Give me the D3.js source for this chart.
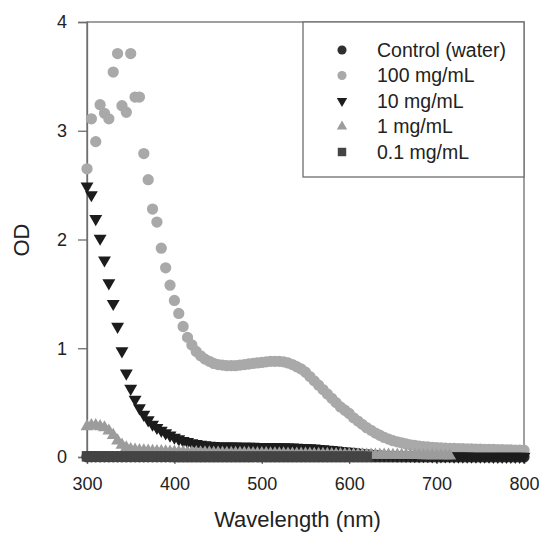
<!DOCTYPE html>
<html>
<head>
<meta charset="utf-8">
<script src="https://cdn.jsdelivr.net/npm/d3@7.9.0/dist/d3.min.js"></script>
<style>
  body { margin: 0; background: #fff; }
  svg { display: block; font-family: "Liberation Sans", Arial, sans-serif; }
</style>
</head>
<body>
<svg id="chart" width="539" height="539"></svg>
<script>
// wavelength grid (nm), 5 nm steps
const wavelengths = [
  300, 305, 310, 315, 320, 325, 330, 335, 340, 345,
  350, 355, 360, 365, 370, 375, 380, 385, 390, 395,
  400, 405, 410, 415, 420, 425, 430, 435, 440, 445,
  450, 455, 460, 465, 470, 475, 480, 485, 490, 495,
  500, 505, 510, 515, 520, 525, 530, 535, 540, 545,
  550, 555, 560, 565, 570, 575, 580, 585, 590, 595,
  600, 605, 610, 615, 620, 625, 630, 635, 640, 645,
  650, 655, 660, 665, 670, 675, 680, 685, 690, 695,
  700, 705, 710, 715, 720, 725, 730, 735, 740, 745,
  750, 755, 760, 765, 770, 775, 780, 785, 790, 795,
  800
];

const controlOD = [
  0.002, 0.002, 0.002, 0.002, 0.002, 0.002, 0.002, 0.002, 0.002, 0.002,
  0.002, 0.002, 0.002, 0.002, 0.002, 0.002, 0.002, 0.002, 0.002, 0.002,
  0.001, 0.001, 0.001, 0.001, 0.001, 0.001, 0.001, 0.001, 0.001, 0.001,
  0.001, 0.001, 0.001, 0.001, 0.001, 0.001, 0.001, 0.001, 0.001, 0.001,
  0.001, 0.001, 0.001, 0.001, 0.001, 0.001, 0.001, 0.001, 0.001, 0.001,
  0.001, 0.001, 0.001, 0.001, 0.001, 0.001, 0.001, 0.001, 0.001, 0.001,
  0.001, 0.001, 0.001, 0.001, 0.001, 0.001, 0.001, 0.001, 0.001, 0.001,
  0.001, 0.001, 0.001, 0.001, 0.001, 0.001, 0.001, 0.001, 0.001, 0.001,
  0.001, 0.001, 0.001, 0.001, 0.001, 0.001, 0.001, 0.001, 0.001, 0.001,
  0.001, 0.001, 0.001, 0.001, 0.001, 0.001, 0.001, 0.001, 0.001, 0.001,
  0.001
];

const od100 = [
  2.65, 3.11, 2.90, 3.24, 3.16, 3.11, 3.54, 3.71, 3.23, 3.17,
  3.71, 3.31, 3.31, 2.79, 2.55, 2.28, 2.16, 1.92, 1.74, 1.58,
  1.44, 1.32, 1.20, 1.10, 1.03, 0.97, 0.93, 0.90, 0.88, 0.86,
  0.85, 0.845, 0.84, 0.84, 0.84, 0.845, 0.85, 0.855, 0.86, 0.865,
  0.87, 0.875, 0.88, 0.88, 0.88, 0.875, 0.865, 0.85, 0.83, 0.81,
  0.78, 0.74, 0.70, 0.66, 0.62, 0.58, 0.54, 0.50, 0.46, 0.43,
  0.40, 0.36, 0.33, 0.30, 0.27, 0.245, 0.22, 0.20, 0.18, 0.165,
  0.15, 0.14, 0.13, 0.12, 0.112, 0.106, 0.10, 0.096, 0.092, 0.089,
  0.086, 0.084, 0.082, 0.08, 0.078, 0.077, 0.076, 0.075, 0.074, 0.073,
  0.072, 0.071, 0.07, 0.069, 0.068, 0.067, 0.066, 0.065, 0.064, 0.063,
  0.062
];

const od10 = [
  2.49, 2.41, 2.19, 2.01, 1.81, 1.60, 1.41, 1.20, 0.975, 0.77,
  0.63, 0.53, 0.45, 0.39, 0.34, 0.30, 0.27, 0.245, 0.22, 0.20,
  0.18, 0.165, 0.15, 0.14, 0.13, 0.122, 0.116, 0.11, 0.106, 0.103,
  0.10, 0.10, 0.099, 0.098, 0.098, 0.097, 0.097, 0.096, 0.096, 0.095,
  0.095, 0.094, 0.094, 0.093, 0.093, 0.092, 0.091, 0.09, 0.088, 0.086,
  0.084, 0.082, 0.08, 0.077, 0.074, 0.07, 0.066, 0.062, 0.058, 0.054,
  0.05, 0.046, 0.042, 0.038, 0.034, 0.03, 0.027, 0.024, 0.022, 0.02,
  0.018, 0.016, 0.015, 0.014, 0.013, 0.012, 0.011, 0.01, 0.01, 0.009,
  0.009, 0.008, 0.008, 0.008, 0.007, 0.007, 0.007, 0.007, 0.006, 0.006,
  0.006, 0.006, 0.006, 0.005, 0.005, 0.005, 0.005, 0.005, 0.005, 0.005,
  0.005
];

// 1 mg/mL recorded 300-715 nm
const od1 = [
  0.28, 0.29, 0.29, 0.28, 0.27, 0.24, 0.20, 0.15, 0.11, 0.085,
  0.07, 0.065, 0.06, 0.057, 0.055, 0.053, 0.051, 0.05, 0.048, 0.047,
  0.046, 0.045, 0.044, 0.043, 0.042, 0.041, 0.04, 0.04, 0.039, 0.038,
  0.038, 0.037, 0.036, 0.036, 0.035, 0.035, 0.034, 0.034, 0.033, 0.033,
  0.032, 0.032, 0.031, 0.031, 0.03, 0.03, 0.029, 0.029, 0.028, 0.028,
  0.027, 0.027, 0.026, 0.026, 0.025, 0.025, 0.024, 0.024, 0.023, 0.023,
  0.022, 0.022, 0.021, 0.021, 0.02, 0.02, 0.019, 0.019, 0.018, 0.018,
  0.017, 0.017, 0.016, 0.016, 0.015, 0.015, 0.015, 0.014, 0.014, 0.014,
  0.013, 0.013, 0.013, 0.012
];

// 0.1 mg/mL recorded 300-620 nm
const od01 = [
  0.006, 0.006, 0.005, 0.005, 0.005, 0.005, 0.004, 0.004, 0.004, 0.004,
  0.004, 0.004, 0.004, 0.004, 0.004, 0.004, 0.004, 0.004, 0.004, 0.004,
  0.003, 0.003, 0.003, 0.003, 0.003, 0.003, 0.003, 0.003, 0.003, 0.003,
  0.003, 0.003, 0.003, 0.003, 0.003, 0.003, 0.003, 0.003, 0.003, 0.003,
  0.003, 0.003, 0.003, 0.003, 0.003, 0.003, 0.003, 0.003, 0.003, 0.003,
  0.003, 0.003, 0.003, 0.003, 0.003, 0.003, 0.003, 0.003, 0.003, 0.003,
  0.003, 0.003, 0.003, 0.003, 0.003
];

const seriesNames = ['Control (water)', '100 mg/mL', '10 mg/mL', '1 mg/mL', '0.1 mg/mL'];
const xTicks = [300, 400, 500, 600, 700, 800];
const yTicks = [0, 1, 2, 3, 4];

const series = [
  { name: seriesNames[0], values: controlOD, shape: d3.symbolCircle, size: 100, rot: 0, color: '#2f2f2f' },
  { name: seriesNames[1], values: od100, shape: d3.symbolCircle, size: 100, rot: 0, color: '#a9a9a9' },
  { name: seriesNames[2], values: od10, shape: d3.symbolTriangle, size: 72, rot: 180, color: '#1c1c1c' },
  { name: seriesNames[3], values: od1, shape: d3.symbolTriangle, size: 72, rot: 0, color: '#9c9c9c' },
  { name: seriesNames[4], values: od01, shape: d3.symbolSquare, size: 110, rot: 0, color: '#444444' },
];

const svg = d3.select('#chart');
const plotLeft = 87, plotRight = 524, plotTop = 22, plotBottom = 457;

let x = d3.scaleLinear().domain([300, 800]).range([plotLeft, plotRight]);
let y = d3.scaleLinear().domain([0, 4]).range([plotBottom, plotTop]);

// frame
const frameColor = '#6e6e6e';
svg.append('rect')
  .attr('x', plotLeft).attr('y', plotTop)
  .attr('width', plotRight - plotLeft).attr('height', plotBottom - plotTop)
  .attr('fill', 'none').attr('stroke', frameColor).attr('stroke-width', 1.3);

// axes
let xAxis = svg.append('g')
  .attr('transform', `translate(0,${plotBottom})`)
  .call(d3.axisBottom(x).tickValues(xTicks).tickFormat(d3.format('d')).tickSize(7).tickPadding(13));
let yAxis = svg.append('g')
  .attr('transform', `translate(${plotLeft},0)`)
  .call(d3.axisLeft(y).tickValues(yTicks).tickFormat(d3.format('d')).tickSize(9).tickPadding(11));

[xAxis, yAxis].forEach(g => {
  g.select('.domain').attr('stroke', frameColor).attr('stroke-width', 1.3);
  g.selectAll('.tick line').attr('stroke', frameColor).attr('stroke-width', 1.3);
  g.selectAll('.tick text')
    .attr('fill', '#222')
    .style('font-size', '18px')
    .style('font-family', '"Liberation Sans", Arial, sans-serif');
});

// data points, drawn in legend order
series.forEach(s => {
  svg.append('g')
    .selectAll('path')
    .data(s.values)
    .join('path')
    .attr('d', d3.symbol().type(s.shape).size(s.size))
    .attr('transform', (d, i) => `translate(${x(wavelengths[i])},${y(d)}) rotate(${s.rot})`)
    .attr('fill', s.color);
});

// axis titles
svg.append('text')
  .attr('x', (plotLeft + plotRight) / 2 - 8)
  .attr('y', 527)
  .attr('text-anchor', 'middle')
  .attr('fill', '#222')
  .style('font-size', '22px')
  .text('Wavelength (nm)');

svg.append('text')
  .attr('transform', 'translate(29,240) rotate(-90)')
  .attr('text-anchor', 'middle')
  .attr('fill', '#222')
  .style('font-size', '22px')
  .text('OD');

// legend
let legend = svg.append('g');
legend.append('rect')
  .attr('x', 303).attr('y', plotTop)
  .attr('width', plotRight - 303).attr('height', 177 - plotTop)
  .attr('fill', '#fff').attr('stroke', frameColor).attr('stroke-width', 1.3);

series.forEach((s, idx) => {
  let cy = 50 + idx * 25.5;
  legend.append('path')
    .attr('d', d3.symbol().type(s.shape).size(s.size * 0.65))
    .attr('transform', `translate(342,${cy}) rotate(${s.rot})`)
    .attr('fill', s.color);
  legend.append('text')
    .attr('x', 377)
    .attr('y', cy)
    .attr('dy', '0.35em')
    .attr('fill', '#222')
    .style('font-size', '19.5px')
    .text(s.name);
});
</script>
</body>
</html>
